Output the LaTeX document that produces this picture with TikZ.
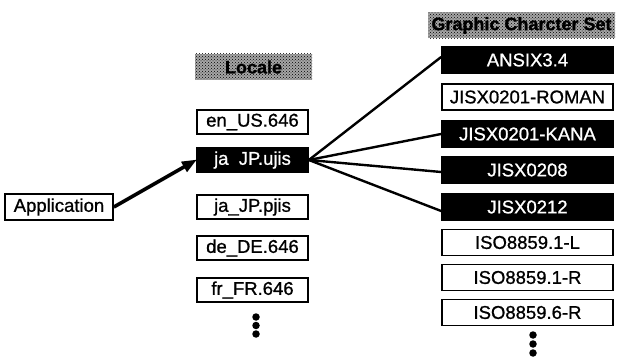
\documentclass[tikz,border=0pt]{standalone}
\usepackage{fontspec}
\setmainfont{Liberation Sans}
\newfontfamily\boxfont[FakeBold=0.9]{Liberation Sans}
\newfontfamily\hdrfont[FakeBold=1.2]{Liberation Sans Bold}
\usetikzlibrary{arrows.meta,patterns}
\begin{document}
\begin{tikzpicture}[x=1pt,y=-1pt,
  every node/.style={font=\boxfont\fontsize{18.5}{20}\selectfont, inner sep=0pt, align=center},
  lbox/.style={draw=black, line width=1.7pt, fill=white, minimum width=111pt, minimum height=24pt},
  rbox/.style={draw=black, line width=1.7pt, fill=white, minimum width=171pt, minimum height=26pt},
  dark/.style={fill=black, text=white},
  hdr/.style={preaction={fill=black!35}, pattern=crosshatch dots, pattern color=black,
    font=\hdrfont\fontsize{18}{20}\selectfont, minimum height=26pt},
  link/.style={line width=2.4pt},
  dot/.style={circle, fill=black, minimum size=7.5pt}]
\useasboundingbox (0,0) rectangle (621,358);

% column headers
\node[hdr, minimum width=117pt] (lochdr) at (253.5,67) {Locale};
\node[hdr, minimum width=187pt] (gcshdr) at (521.5,25.5) {Graphic Charcter Set};

% locales
\node[lbox] (en) at (252.5,122) {en\_US.646};
\node[lbox, dark] (ujis) at (252.5,160) {ja\ \ JP.ujis};
\node[lbox] (pjis) at (252.5,207) {ja\_JP.pjis};
\node[lbox] (de) at (252.5,248) {de\_DE.646};
\node[lbox] (fr) at (252.5,290) {fr\_FR.646};
\node[dot] (ld1) at (256,317) {};
\node[dot] (ld2) at (256,325.5) {};
\node[dot] (ld3) at (256,334) {};

% graphic character sets
\node[rbox, dark] (ansi) at (527.5,60) {ANSIX3.4};
\node[rbox] (roman) at (527.5,97) {JISX0201-ROMAN};
\node[rbox, dark] (kana) at (527.5,134) {JISX0201-KANA};
\node[rbox, dark] (j208) at (527.5,170) {JISX0208};
\node[rbox, dark] (j212) at (527.5,207) {JISX0212};
\node[rbox] (isol) at (527.5,242.5) {ISO8859.1-L};
\node[rbox] (isor) at (527.5,277.5) {ISO8859.1-R};
\node[rbox] (iso6) at (527.5,312.5) {ISO8859.6-R};
\node[dot] (rd1) at (533,335) {};
\node[dot] (rd2) at (533,344) {};
\node[dot] (rd3) at (533,353) {};

% application
\node[draw=black, line width=1.7pt, minimum width=108pt, minimum height=26pt] (app) at (59,207) {Application};

% connectors
\draw[line width=3.6pt, -{Triangle[length=15pt,width=11pt]}, shorten >=-1pt] (app.east) -- (ujis.west);
\coordinate (hub) at (ujis.east);
\draw[link] (hub) -- ([yshift=3pt]ansi.west);
\draw[link] (hub) -- (kana.west);
\draw[link] (hub) -- ([yshift=-2pt]j208.west);
\draw[link] (hub) -- ([yshift=-4pt]j212.west);
\end{tikzpicture}
\end{document}
